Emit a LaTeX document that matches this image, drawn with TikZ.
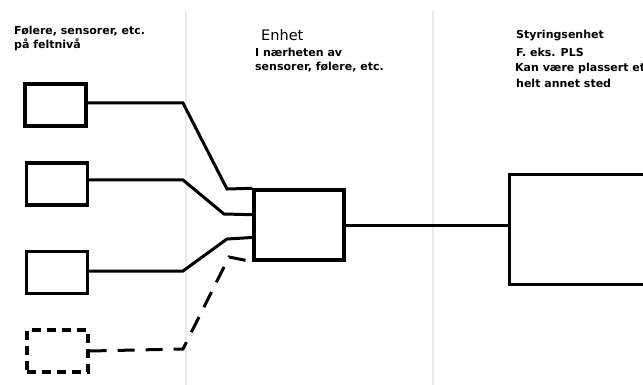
\documentclass[tikz,border=0pt]{standalone}
\usepackage{fontspec}
\setmainfont{DejaVu Sans}
\usetikzlibrary{calc}
\begin{document}
\begin{tikzpicture}[x=1pt,y=-1pt,
  divider/.style={draw=black!8,line width=1.2pt},
  sensorbox/.style={draw,line width=3.4pt,minimum width=61pt,minimum height=42pt,inner sep=0pt},
  ghostbox/.style={sensorbox,dash pattern=on 9pt off 6pt},
  wire/.style={line width=3pt,line join=miter},
  ghostwire/.style={wire,dash pattern=on 17pt off 11pt},
  lbl/.style={anchor=west,inner sep=0pt,font=\bfseries\fontsize{11}{12}\selectfont},
  title/.style={anchor=west,inner sep=0pt,font=\fontsize{14.5}{16}\selectfont}]
\useasboundingbox (0,0) rectangle (643,385);
\clip (0,0) rectangle (643,385);
% dividers
\draw[divider] (186,10) -- (186,385);
\draw[divider] (433,11) -- (433,385);
% texts
\node[lbl] (t1) at (14,31) {Følere, sensorer, etc.};
\node[lbl] (t2) at (14,45) {på feltnivå};
\node[title] (t3) at (261,35) {Enhet};
\node[lbl] (t4) at (255,52) {I nærheten av};
\node[lbl] (t5) at (255,67) {sensorer, følere, etc.};
\node[lbl] (t6) at (516,36) {Styringsenhet};
\node[lbl] (t7) at (516,52) {F. eks. PLS};
\node[lbl] (t8) at (515,68) {Kan være plassert et};
\node[lbl] (t9) at (516,83) {helt annet sted};
% sensor boxes
\node[sensorbox] (s1) at (55.5,105) {};
\node[sensorbox] (s2) at (57,184) {};
\node[sensorbox] (s3) at (57,272.5) {};
\node[ghostbox] (s4) at (57.5,351) {};
% unit box
\node[draw,line width=3.4pt,minimum width=90pt,minimum height=70pt,inner sep=0pt] (unit) at (299,225) {};
% controller box
\node[draw,line width=3.4pt,minimum width=160pt,minimum height=110pt,inner sep=0pt,anchor=north west] (ctrl) at (508,173) {};
% entry points on unit
\coordinate (e1) at (unit.north west);
\coordinate (e2) at ($(unit.north west)!0.36!(unit.south west)$);
\coordinate (e3) at ($(unit.north west)!0.67!(unit.south west)$);
\coordinate (e4) at (unit.south west);
% wires
\draw[wire] (s1.east |- 0,103) -- (183,103) -- (227,189) -- (e1);
\draw[wire] (s2.east |- 0,180) -- (183,180) -- (224,214) -- (e2);
\draw[wire] (s3.east |- 0,271) -- (183,271) -- (227,239) -- (e3);
\draw[ghostwire] (s4.east) -- (183,349) -- (229,257) -- (e4);
\draw[wire] (unit.east) -- (unit.east -| ctrl.west);
\end{tikzpicture}
\end{document}
